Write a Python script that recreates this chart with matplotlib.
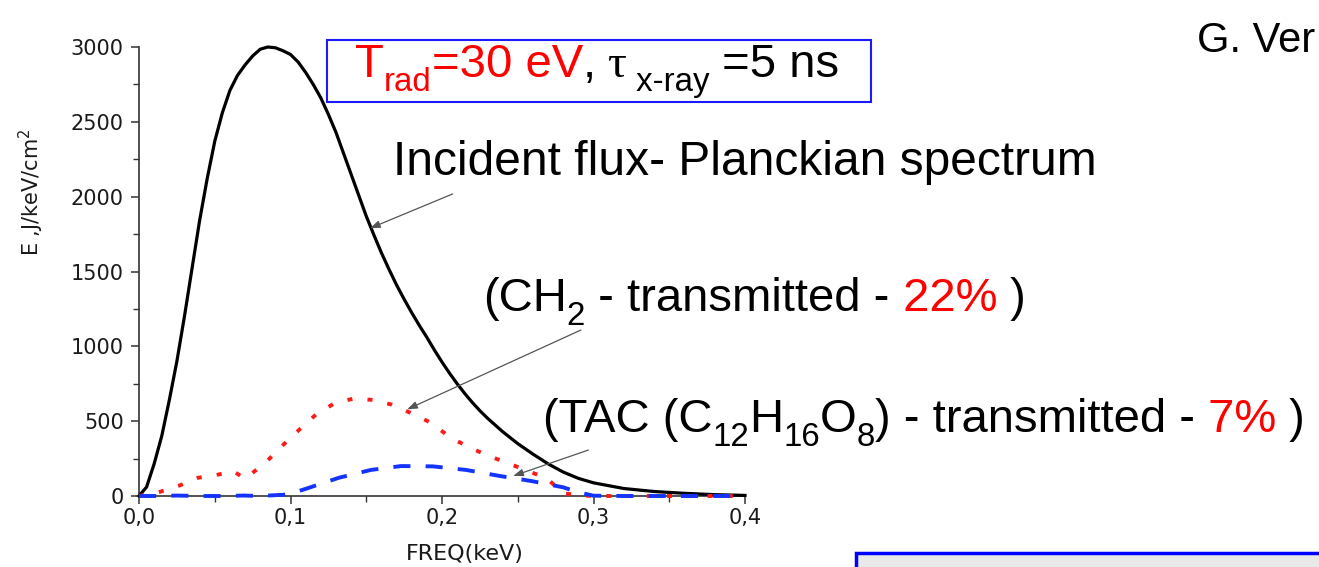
import matplotlib
matplotlib.use("Agg")
import matplotlib.pyplot as plt
from matplotlib.ticker import MultipleLocator, FuncFormatter
from matplotlib.patches import Rectangle

# Incident Planckian flux (T_rad = 30 eV)
freq_incident = [0.000, 0.005, 0.010, 0.015, 0.020, 0.025, 0.030, 0.035, 0.040, 0.045,
                 0.050, 0.055, 0.060, 0.065, 0.070, 0.075, 0.080, 0.085, 0.090, 0.095,
                 0.100, 0.105, 0.110, 0.115, 0.120, 0.125, 0.130, 0.135, 0.140, 0.145,
                 0.150, 0.155, 0.160, 0.165, 0.170, 0.175, 0.180, 0.185, 0.190, 0.195,
                 0.200, 0.205, 0.210, 0.215, 0.220, 0.225, 0.230, 0.240, 0.250, 0.260,
                 0.270, 0.280, 0.290, 0.300, 0.320, 0.340, 0.360, 0.380, 0.400]
flux_incident = [0, 60, 215, 400, 640, 900, 1200, 1520, 1840, 2120,
                 2370, 2560, 2710, 2810, 2880, 2940, 2985, 3000, 2995, 2975,
                 2950, 2900, 2830, 2750, 2660, 2550, 2430, 2290, 2150, 2010,
                 1870, 1745, 1625, 1515, 1410, 1315, 1225, 1140, 1060, 975,
                 895, 820, 750, 685, 625, 570, 520, 430, 350, 280,
                 215, 160, 118, 88, 50, 30, 18, 9, 4]

# Flux transmitted through CH2
freq_ch2 = [0.000, 0.013, 0.027, 0.039, 0.051, 0.062, 0.070, 0.083, 0.095, 0.106,
            0.117, 0.129, 0.142, 0.155, 0.167, 0.180, 0.193, 0.205, 0.218, 0.231,
            0.244, 0.256, 0.269, 0.280, 0.293, 0.310, 0.340, 0.370, 0.400]
flux_ch2 = [0, 25, 71, 122, 140, 167, 116, 218, 340, 445,
            546, 619, 652, 641, 610, 552, 488, 394, 325, 267,
            218, 169, 120, 18, 2, 0, 0, 0, 0]

# Flux transmitted through TAC (C12H16O8)
freq_tac = [0.000, 0.012, 0.025, 0.040, 0.055, 0.069, 0.080, 0.089, 0.095, 0.100,
            0.111, 0.132, 0.153, 0.173, 0.194, 0.216, 0.238, 0.259, 0.280, 0.290,
            0.300, 0.320, 0.360, 0.400]
flux_tac = [0, 0, 3, 0, 0, 3, 0, 5, 8, 15,
            51, 122, 174, 200, 198, 174, 134, 100, 58, 25,
            2, 0, 0, 0]

x_ticks = [0.0, 0.1, 0.2, 0.3, 0.4]
y_ticks = [0, 500, 1000, 1500, 2000, 2500, 3000]

W, H = 1319, 567
fig = plt.figure(figsize=(W / 100, H / 100), dpi=100)
fig.patch.set_facecolor("white")

ax = fig.add_axes([139 / W, (H - 496) / H, 606 / W, 449 / H])
ax.plot(freq_incident, flux_incident, color="black", lw=2.3, clip_on=False, zorder=3)
ax.plot(freq_ch2, flux_ch2, color="#ff1a1a", lw=2.8, linestyle=(0, (1.3, 3.9)),
        clip_on=False, zorder=4)
ax.plot(freq_tac, flux_tac, color="#1433ff", lw=2.8, linestyle=(0, (4.4, 3.9)),
        clip_on=False, zorder=5)

ax.set_xlim(0, 0.4)
ax.set_ylim(0, 3000)
ax.set_xticks(x_ticks)
ax.set_yticks(y_ticks)
ax.xaxis.set_minor_locator(MultipleLocator(0.05))
ax.yaxis.set_minor_locator(MultipleLocator(250))
ax.xaxis.set_major_formatter(FuncFormatter(lambda v, p: f"{v:.1f}".replace(".", ",")))
ax.yaxis.set_major_formatter(FuncFormatter(lambda v, p: f"{int(round(v))}"))

for side in ("top", "right"):
    ax.spines[side].set_visible(False)
for side in ("left", "bottom"):
    ax.spines[side].set_color("#333333")
    ax.spines[side].set_linewidth(1.2)

ax.tick_params(which="major", direction="out", length=6, width=1.1, color="#333333",
               labelsize=15, labelcolor="#1a1a1a")
ax.tick_params(axis="y", which="major", pad=5)
ax.tick_params(axis="x", which="major", pad=3)
ax.tick_params(which="minor", direction="out", length=4, width=1.0, color="#333333")

ax.set_xlabel("FREQ(keV)", fontsize=16, color="#1a1a1a")
ax.xaxis.set_label_coords((465 - 139) / 606, -(554 - 496) / 449)
ax.xaxis.label.set_va("center")
ax.set_ylabel("E ,J/keV/cm$^2$", fontsize=15, color="#1a1a1a")
ax.yaxis.set_label_coords((31 - 139) / 606, (496 - 192) / 449)
ax.yaxis.label.set_va("center")

arrow_style = dict(arrowstyle="-|>,head_length=0.6,head_width=0.22", color="#555555",
                   lw=0.9, shrinkA=0, shrinkB=0)
ax.annotate("", xy=(0.1525, 1789), xytext=(0.207, 2018), arrowprops=arrow_style,
            annotation_clip=False)
ax.annotate("", xy=(0.177, 579), xytext=(0.2917, 1109), arrowprops=arrow_style,
            annotation_clip=False)
ax.annotate("", xy=(0.247, 134), xytext=(0.2966, 307), arrowprops=arrow_style,
            annotation_clip=False)

# Overlay in pixel units (origin top-left) for the slide annotations
ov = fig.add_axes([0, 0, 1, 1])
ov.set_xlim(0, W)
ov.set_ylim(H, 0)
ov.axis("off")

SANS = ["Liberation Sans", "DejaVu Sans"]
SERIF = ["Liberation Serif", "DejaVu Serif"]
RED = "#ff0000"
BLK = "black"


def rich_text(x, y, parts, size):
    """Draw a run of text pieces side by side on one baseline."""
    prev = None
    for piece in parts:
        text, color, sub = piece[:3]
        family = piece[3] if len(piece) > 3 else SANS
        fs = size * 0.7 if sub else size
        dy = -size * 0.3 if sub else 0.0
        kw = dict(xytext=(0, dy), textcoords="offset points", fontsize=fs, color=color,
                  va="baseline", ha="left", family=family, annotation_clip=False)
        if prev is None:
            prev = ov.annotate(text, xy=(x, y), xycoords="data", **kw)
        else:
            prev = ov.annotate(text, xy=(1, y), xycoords=(prev, "data"), **kw)


ov.add_patch(Rectangle((327, 40), 544, 62, fill=False, edgecolor="#1a1aff", lw=1.5))
rich_text(355, 77, [("T", RED, False), ("rad", RED, True), ("=30 eV", RED, False),
                    (",", BLK, False), (" \u03c4", BLK, False, SERIF),
                    (" x-ray", BLK, True), (" =5 ns", BLK, False)], 34)

rich_text(393, 175, [("Incident flux- Planckian spectrum", BLK, False)], 34.5)

rich_text(483, 311, [("(CH", BLK, False), ("2", BLK, True), (" - transmitted -", BLK, False),
                     (" 22%", RED, False), (" )", BLK, False)], 34)

rich_text(543, 432, [("(TAC (C", BLK, False), ("12", BLK, True), ("H", BLK, False),
                     ("16", BLK, True), ("O", BLK, False), ("8", BLK, True),
                     (") - transmitted -", BLK, False), (" 7%", RED, False),
                     (" )", BLK, False)], 34)

ov.text(1197, 52, "G. Ver", fontsize=30, family=SANS, va="baseline", ha="left", color=BLK)

ov.add_patch(Rectangle((856, 553), 520, 60, facecolor="#e9e9e9", edgecolor="#0000ff", lw=2.5))

fig.savefig("out.png", dpi=100)
